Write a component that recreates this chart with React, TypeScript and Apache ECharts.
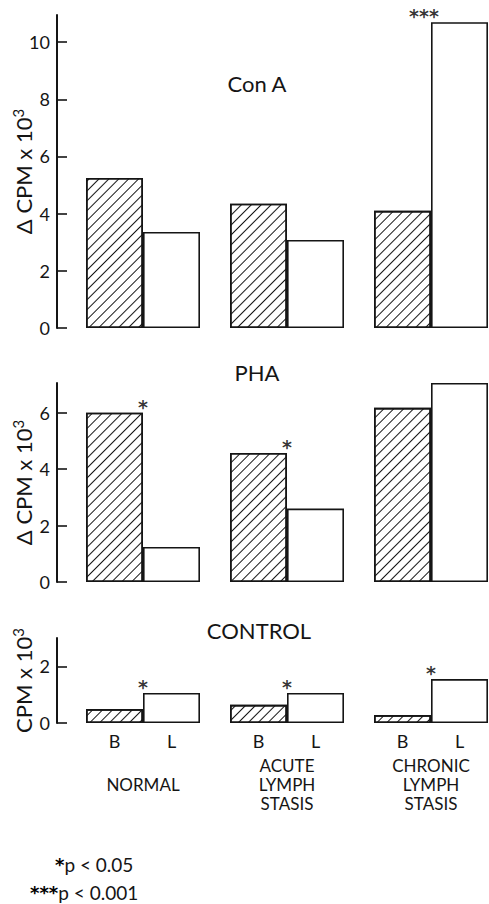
import React, { useEffect, useRef } from "react";
import * as echarts from "echarts";

const categories = ["NORMAL", "ACUTE\nLYMPH\nSTASIS", "CHRONIC\nLYMPH\nSTASIS"];
const barNames = ["B", "L"];

const conA_B = [5.25, 4.35, 4.1];
const conA_L = [3.36, 3.08, 10.7];
const conA_sig = ["", "", "***"];
const conA_ticks = [0, 2, 4, 6, 8, 10];

const pha_B = [6.0, 4.57, 6.17];
const pha_L = [1.24, 2.6, 7.05];
const pha_sig = ["*", "*", ""];
const pha_ticks = [0, 2, 4, 6];

const ctrl_B = [0.49, 0.64, 0.28];
const ctrl_L = [1.06, 1.06, 1.55];
const ctrl_sig = ["*", "*", "*"];
const ctrl_ticks = [0, 2];

const titles = ["Con A", "PHA", "CONTROL"];
const yNames = ["Δ CPM x 10", "Δ CPM x 10", "CPM x 10"];
const footStars = ["*", "***"];
const footTexts = ["p < 0.05", "p < 0.001"];

const FONT = 'Lato, "DejaVu Sans", sans-serif';
const STAR_FONT = '"DejaVu Sans", sans-serif';
const INK = "#151515";

export default function App() {
  const ref = useRef<HTMLDivElement>(null);
  useEffect(() => {
    if (!ref.current) return;
    const chart = echarts.init(ref.current, null, { renderer: "svg" });

    const panels = [
      { B: conA_B, L: conA_L, sig: conA_sig, ticks: conA_ticks, max: 10.95, top: 15, height: 313 },
      { B: pha_B, L: pha_L, sig: pha_sig, ticks: pha_ticks, max: 7.05, top: 383, height: 199 },
      { B: ctrl_B, L: ctrl_L, sig: ctrl_sig, ticks: ctrl_ticks, max: 3.0, top: 638, height: 85 },
    ];

    const grid = panels.map((p) => ({
      left: 71,
      width: 432,
      top: p.top,
      height: p.height,
      containLabel: false,
      outerBoundsMode: "none",
    }));

    const xAxis = panels.map((p, i) => ({
      type: "category",
      gridIndex: i,
      data: categories,
      axisLine: { show: false },
      axisTick: { show: false },
      axisLabel: {
        show: i === 2,
        margin: 61,
        verticalAlign: "middle",
        lineHeight: 19,
        fontSize: 17,
        fontFamily: FONT,
        color: INK,
      },
    }));

    const yAxis = panels.map((p, i) => ({
      type: "value",
      gridIndex: i,
      min: 0,
      max: p.max,
      offset: 14,
      splitLine: { show: false },
      axisLine: { show: true, lineStyle: { color: INK, width: 2 } },
      axisTick: {
        show: true,
        inside: true,
        length: 10,
        customValues: p.ticks,
        lineStyle: { color: INK, width: 1.6 },
      },
      axisLabel: {
        customValues: p.ticks,
        margin: 7,
        fontSize: 18,
        fontFamily: FONT,
        color: INK,
      },
      name: "{n|" + yNames[i] + "}{s|3}",
      nameLocation: "middle",
      nameRotate: 90,
      nameGap: 21,
      nameMoveOverlap: false,
      nameTextStyle: {
        rich: {
          n: { fontSize: 22, fontFamily: FONT, color: INK, lineHeight: 26 },
          s: { fontSize: 15, fontFamily: FONT, color: INK, verticalAlign: "top", lineHeight: 26 },
        },
      },
    }));

    const series: any[] = [];
    panels.forEach((p, i) => {
      [p.B, p.L].forEach((vals, k) => {
        series.push({
          type: "bar",
          name: barNames[k],
          xAxisIndex: i,
          yAxisIndex: i,
          data: vals,
          barWidth: 57,
          barGap: "0%",
          itemStyle: {
            color: "#fff",
            borderColor: INK,
            borderWidth: 1.6,
            decal:
              k === 0
                ? {
                    symbol: "rect",
                    symbolSize: 1,
                    dashArrayX: [1, 0],
                    dashArrayY: [1, 6],
                    rotation: -Math.PI / 4,
                    color: INK,
                  }
                : "none",
          },
          label: {
            show: i === 2,
            position: "bottom",
            distance: 9,
            formatter: "{a}",
            fontSize: 18,
            fontFamily: FONT,
            color: INK,
          },
        });
      });
      series.push({
        type: "scatter",
        xAxisIndex: i,
        yAxisIndex: i,
        symbolSize: 1,
        itemStyle: { color: "rgba(0,0,0,0)" },
        z: 5,
        data: p.sig
          .map((s, j) => ({ s, j }))
          .filter((d) => d.s)
          .map((d) => ({
            value: [d.j, Math.max(p.B[d.j], p.L[d.j])],
            label: {
              show: true,
              position: "inside",
              formatter: d.s,
              offset: [d.s.length > 1 ? -7 : 0, -6],
              fontSize: 19,
              fontFamily: STAR_FONT,
              fontWeight: "bold",
              color: "#000",
            },
          })),
      });
    });

    const titlePos = [
      [257, 83],
      [257, 372],
      [259, 630],
    ];

    const graphic: any[] = titles.map((t, i) => ({
      type: "text",
      x: titlePos[i][0],
      y: titlePos[i][1],
      style: {
        text: t,
        fontSize: 22,
        fontFamily: FONT,
        fill: INK,
        align: "center",
        verticalAlign: "middle",
      },
    }));
    const footPos = [
      [55, 864],
      [30, 892],
    ];
    footTexts.forEach((t, i) => {
      graphic.push({
        type: "text",
        x: footPos[i][0],
        y: footPos[i][1],
        style: {
          text: "{a|" + footStars[i] + "}{b|" + t + "}",
          verticalAlign: "middle",
          rich: {
            a: { fontSize: 18, fontFamily: STAR_FONT, fontWeight: "bold", fill: "#000", lineHeight: 22 },
            b: { fontSize: 19, fontFamily: FONT, fill: INK, lineHeight: 22 },
          },
        },
      });
    });

    chart.setOption({
      animation: false,
      backgroundColor: "#fff",
      grid,
      xAxis,
      yAxis,
      series,
      graphic,
    });
    return () => chart.dispose();
  }, []);
  return (
    <div
      ref={ref}
      style={{ position: "absolute", left: 0, top: 0, width: 489, height: 904 }}
    />
  );
}
